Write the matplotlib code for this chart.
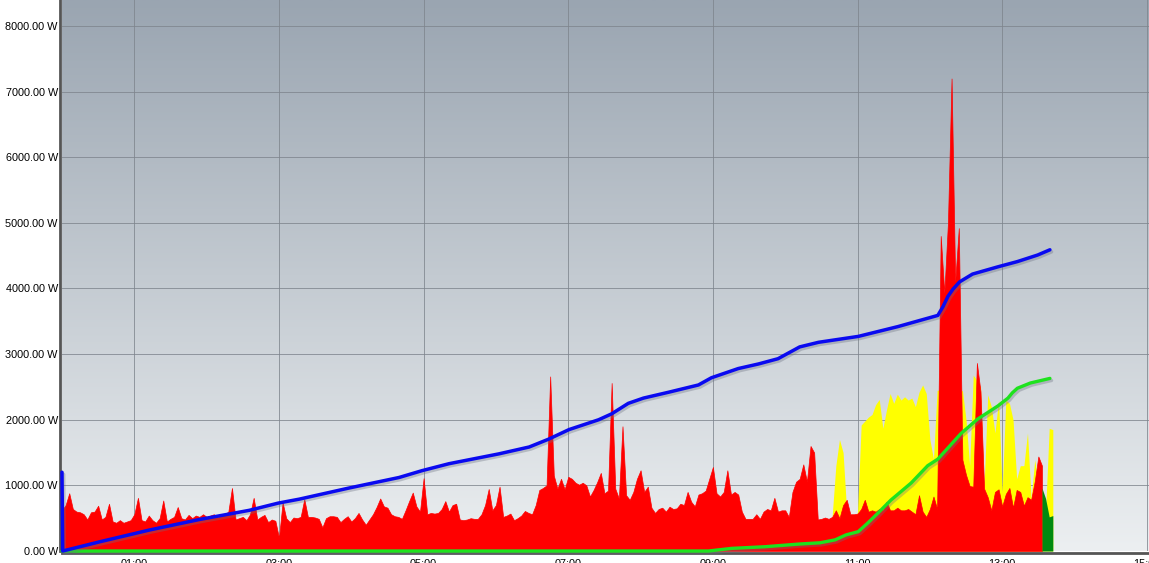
import numpy as np
import matplotlib
matplotlib.use('Agg')
import matplotlib.pyplot as plt
import matplotlib.patheffects as pe

plt.rcParams['font.family'] = ['Liberation Sans', 'DejaVu Sans']

# power samples, one every 3 minutes (0.05 h) starting at 00:00
step_h = 0.05

consumption = [
    620, 700, 880, 640, 600, 590, 560, 480, 590, 600,
    690, 480, 520, 720, 450, 430, 470, 430, 450, 470,
    560, 810, 470, 450, 540, 470, 430, 500, 770, 450,
    490, 520, 670, 500, 480, 550, 500, 540, 520, 560,
    520, 540, 560, 510, 550, 560, 600, 960, 480, 500,
    520, 470, 560, 810, 480, 520, 550, 440, 480, 460,
    200, 740, 500, 440, 510, 500, 520, 790, 520, 520,
    510, 490, 360, 500, 530, 530, 520, 440, 490, 530,
    450, 500, 580, 480, 400, 480, 560, 670, 800, 680,
    660, 560, 530, 520, 490, 620, 760, 890, 680, 600,
    1110, 560, 580, 570, 580, 640, 760, 600, 700, 720,
    480, 470, 480, 500, 490, 490, 560, 700, 945, 620,
    700, 980, 520, 540, 570, 470, 500, 540, 610, 580,
    560, 700, 930, 960, 1000, 2660, 1150, 950, 1100, 940,
    1130, 1100, 1040, 1010, 1040, 1000, 830, 930, 1050, 1190,
    880, 920, 2560, 950, 800, 1900, 850, 780, 900, 1100,
    1230, 900, 980, 660, 580, 640, 660, 600, 675, 640,
    650, 720, 700, 900, 750, 680, 860, 880, 920, 1100,
    1280, 880, 830, 900, 1230, 860, 900, 860, 600, 490,
    490, 490, 560, 490, 600, 640, 620, 810, 600, 620,
    620, 520, 900, 1055, 1100, 1320, 1055, 1600, 1500, 480,
    490, 510, 490, 520, 620, 500, 700, 780, 560, 560,
    570, 640, 780, 600, 620, 600, 640, 620, 750, 620,
    620, 660, 620, 620, 640, 600, 560, 850, 600, 520,
    640, 830, 640, 4800, 3930, 5000, 7200, 4100, 4920, 1390,
    1160, 990, 980, 2865, 2430, 950, 820, 620, 900, 940,
    680, 870, 960, 660, 930, 900, 690, 820, 780, 1060,
    1440, 1300,
]

# solar production, starts at 10:36
solar_start_h = 10.60
solar = [
    0, 550, 1300, 1700, 1500, 600, 400, 400, 600, 1920,
    1980, 2040, 2080, 2230, 2310, 1870, 2150, 2400, 2250, 2390,
    2300, 2350, 2300, 2330, 2200, 2420, 2530, 2400, 1700, 1400,
    2450, 2450, 2400, 2400, 2400, 2450, 2400, 2450, 2000, 1300,
    2680, 2600, 2500, 1000, 2380, 2200, 1800, 2300, 900, 2300,
    2250, 2000, 1100, 1300, 1300, 1800, 800, 1390, 1000, 900,
    600, 1870, 1850,
]

# last samples (dark green)
battery_start_h = 13.55
battery = [960, 800, 520, 540]

# cumulative curves
blue_t = [0.0, 0.01, 0.52, 1.21, 1.90, 2.59, 2.99, 3.28, 3.97, 4.66, 4.98, 5.35,
          6.04, 6.46, 6.73, 7.01, 7.42, 7.60, 7.83, 8.04, 8.39, 8.80, 8.98,
          9.35, 9.63, 9.90, 10.05, 10.20, 10.46, 11.01, 11.56, 12.11, 12.18, 12.25,
          12.32, 12.41, 12.59, 12.94, 13.21, 13.49, 13.66]
blue_v = [1200, 0, 140, 320, 480, 620, 730, 790, 960, 1120, 1225, 1330,
          1480, 1585, 1705, 1850, 2000, 2090, 2250, 2330, 2420, 2530, 2640,
          2780, 2850, 2930, 3020, 3110, 3180, 3270, 3420, 3590, 3720, 3880,
          3990, 4100, 4220, 4330, 4410, 4510, 4590]

green_t = [0.0, 8.94, 9.26, 9.72, 10.18, 10.48, 10.69, 10.84, 11.01, 11.14,
           11.28, 11.46, 11.74, 11.97, 12.11, 12.25, 12.43, 12.66, 12.94,
           13.08, 13.14, 13.21, 13.39, 13.66]
green_v = [0, 0, 40, 65, 105, 125, 170, 245, 295, 425,
           575, 775, 1035, 1300, 1400, 1570, 1790, 2010, 2210,
           2330, 2410, 2480, 2560, 2630]

x_ticks = [1, 3, 5, 7, 9, 11, 13, 15]
x_tick_labels = ['01:00', '03:00', '05:00', '07:00', '09:00', '11:00', '13:00', '15:00']
y_ticks = list(range(0, 9000, 1000))


def main():
    fig = plt.figure(figsize=(11.49, 5.63), dpi=100)
    ax = fig.add_axes([62 / 1149, 12 / 563, 1087 / 1149, 551 / 563])

    xmax, ymax = 15.03, 8396

    # background gradient
    top = np.array([154, 165, 177]) / 255.0
    bot = np.array([236, 239, 241]) / 255.0
    g = np.linspace(0, 1, 256)[:, None]
    grad = top[None, :] * (1 - g) + bot[None, :] * g
    ax.imshow(grad[:, None, :], extent=[0, xmax, 0, ymax], aspect='auto',
              origin='upper', zorder=-2, interpolation='bilinear')

    t_cons = np.arange(len(consumption)) * step_h
    t_sol = solar_start_h + np.arange(len(solar)) * step_h
    t_bat = battery_start_h + np.arange(len(battery)) * step_h

    ax.fill_between(t_sol, 0, solar, color='#ffff00', linewidth=0, zorder=2)
    ax.fill_between(t_cons, 0, consumption, color='#ff0000', linewidth=0.5,
                    edgecolor='#ff0000', zorder=3)
    ax.fill_between(t_bat, 0, battery, color='#008a10', linewidth=0, zorder=4)

    shadow = [pe.SimpleLineShadow(offset=(1.2, -1.5), shadow_color='#6a7080', alpha=0.35),
              pe.Normal()]
    ax.plot(green_t, green_v, color='#1ee21e', linewidth=2.4, zorder=8,
            solid_capstyle='round', path_effects=shadow, clip_on=False)
    ax.plot(blue_t, blue_v, color='#0a0af0', linewidth=2.5, zorder=9,
            solid_capstyle='round', path_effects=shadow, clip_on=False)

    ax.set_xlim(0, xmax)
    ax.set_ylim(0, ymax)
    ax.set_xticks(x_ticks)
    ax.set_xticklabels(x_tick_labels)
    ax.set_yticks(y_ticks)
    ax.set_yticklabels(['%.2f W' % y for y in y_ticks])
    ax.tick_params(axis='both', length=0, labelsize=7.8, colors='black')
    ax.tick_params(axis='y', pad=1.5)
    ax.tick_params(axis='x', pad=4.5)

    ax.set_axisbelow(True)
    ax.grid(True, color='#7e858d', linewidth=0.7, alpha=0.8)

    for s in ['top', 'right']:
        ax.spines[s].set_visible(False)
    for s in ['left', 'bottom']:
        ax.spines[s].set_color('#555555')
        ax.spines[s].set_linewidth(2.0)
        ax.spines[s].set_zorder(7)
        ax.spines[s].set_position(('outward', 1.5))

    fig.savefig('out.png', dpi=100)


if __name__ == '__main__':
    main()
